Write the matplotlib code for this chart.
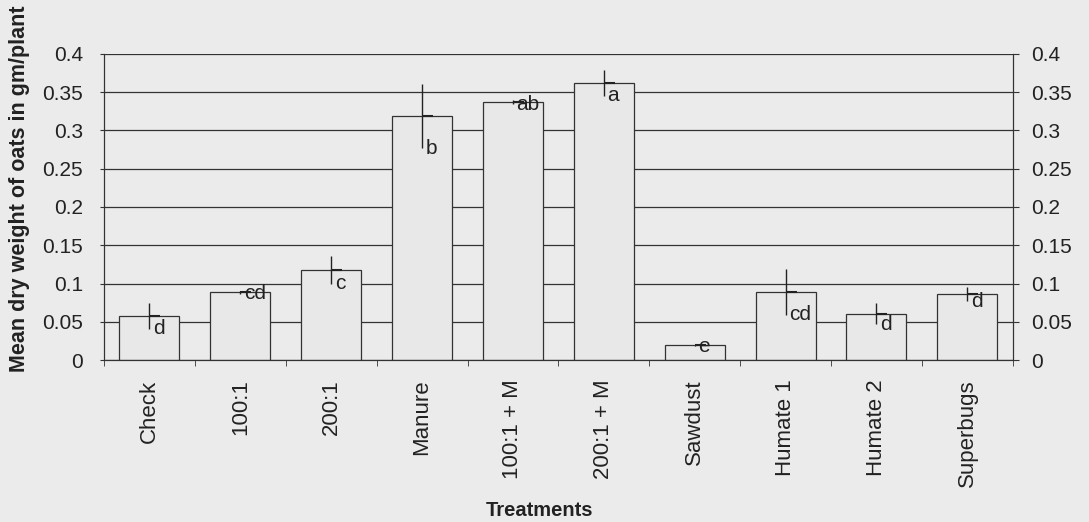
import numpy as np
import matplotlib
matplotlib.use("Agg")
import matplotlib.pyplot as plt

plt.rcParams['font.family'] = ['Liberation Sans', 'DejaVu Sans']

# data
treatments = ['Check', '100:1', '200:1', 'Manure', '100:1 + M', '200:1 + M',
              'Sawdust', 'Humate 1', 'Humate 2', 'Superbugs']
means = [0.058, 0.0885, 0.1176, 0.319, 0.337, 0.3625, 0.019, 0.0893, 0.0605, 0.0858]
errs = [0.017, 0.002, 0.018, 0.042, 0.003, 0.017, 0.001, 0.030, 0.014, 0.009]
letters = ['d', 'cd', 'c', 'b', 'ab', 'a', 'e', 'cd', 'd', 'd']
yticks = [0, 0.05, 0.1, 0.15, 0.2, 0.25, 0.3, 0.35, 0.4]

bg = '#ebebeb'
ink = '#222222'
fig = plt.figure(figsize=(10.89, 5.22), dpi=100, facecolor=bg)
ax = fig.add_axes([0.0955, 0.3103, 0.8345, 0.5863])
ax.set_facecolor(bg)

x = np.arange(len(treatments))
ax.set_axisbelow(True)
ax.yaxis.grid(True, color='#333333', linewidth=0.9)
ax.bar(x, means, width=0.66, color='#e8e8e8', edgecolor='#333333', linewidth=0.9, zorder=2)

# error bars with a right-pointing tick at the mean
ax.errorbar(x, means, yerr=errs, fmt='none', ecolor=ink, elinewidth=1.0, capsize=0, zorder=3)
ax.plot(x, means, linestyle='none', marker=1, markersize=8, markeredgewidth=1.5, color=ink, zorder=3)

for xi, m, e, lab in zip(x, means, errs, letters):
    ax.text(xi + 0.04, m - e, lab, ha='left', va='center', fontsize=15, color=ink, zorder=4)

ax.set_xlim(-0.5, len(treatments) - 0.5)
ax.set_ylim(0, 0.4)
ax.set_yticks(yticks)
ax.set_yticklabels([('%g' % v) for v in yticks], fontsize=15, color=ink)
ax.set_xticks(x)
ax.set_xticklabels(treatments, rotation=90, fontsize=16, color=ink)
ax.set_xticks(np.arange(-0.5, len(treatments), 1.0), minor=True)
ax.tick_params(axis='x', which='major', length=0, pad=14)
ax.tick_params(axis='x', which='minor', length=4, direction='out', color='#333333')
ax.tick_params(axis='y', length=3, direction='out', color='#333333', pad=12)

ax.spines['top'].set_visible(False)
for s in ['left', 'right', 'bottom']:
    ax.spines[s].set_color('#333333')

ax2 = ax.twinx()
ax2.set_ylim(0, 0.4)
ax2.set_yticks(yticks)
ax2.set_yticklabels([('%g' % v) for v in yticks], fontsize=15, color=ink)
ax2.tick_params(axis='y', length=4, direction='out', color='#333333', pad=9)
ax2.spines['top'].set_visible(False)
for s in ['left', 'right', 'bottom']:
    ax2.spines[s].set_color('#333333')

fig.text(20 / 1089, 1 - 189 / 522, 'Mean dry weight of oats in gm/plant', rotation=90,
         ha='center', va='center', fontsize=15.5, fontweight='bold', color=ink)
fig.text(540 / 1089, 1 - 510 / 522, 'Treatments', ha='center', va='center',
         fontsize=14.5, fontweight='bold', color=ink)

fig.savefig('out.png', dpi=100, facecolor=bg)
